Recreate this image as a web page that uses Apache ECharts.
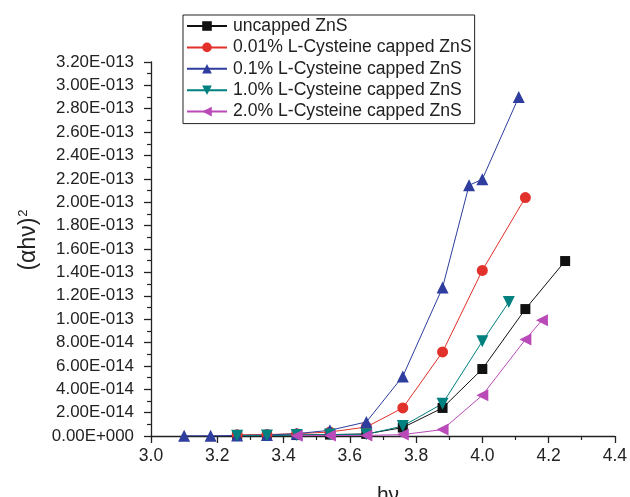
<!DOCTYPE html>
<html>
<head>
<meta charset="utf-8">
<script src="https://cdn.jsdelivr.net/npm/echarts@6/dist/echarts.min.js"></script>
<style>html,body{margin:0;padding:0;background:#fff;}#c{width:630px;height:497px;}</style>
</head>
<body>
<div id="c"></div>
<script>
// Data (y values in units of 1E-014)
var seriesNames = ['uncapped ZnS', '0.01% L-Cysteine capped ZnS', '0.1% L-Cysteine capped ZnS', '1.0% L-Cysteine capped ZnS', '2.0% L-Cysteine capped ZnS'];
var xUncapped = [3.26, 3.35, 3.44, 3.54, 3.65, 3.76, 3.88, 4.00, 4.13, 4.25];
var yUncapped = [0.05, 0.05, 0.08, 0.12, 0.18, 0.72, 2.40, 5.73, 10.86, 14.97];
var x001 = [3.26, 3.35, 3.44, 3.54, 3.65, 3.76, 3.88, 4.00, 4.13];
var y001 = [0.10, 0.12, 0.20, 0.34, 0.77, 2.40, 7.19, 14.17, 20.40];
var x01 = [3.10, 3.18, 3.26, 3.35, 3.44, 3.54, 3.65, 3.76, 3.88, 3.96, 4.00, 4.11];
var y01 = [0.02, 0.02, 0.05, 0.08, 0.20, 0.49, 1.20, 5.10, 12.70, 21.45, 21.96, 29.00];
var x10 = [3.26, 3.35, 3.44, 3.54, 3.65, 3.76, 3.88, 4.00, 4.08];
var y10 = [0.03, 0.04, 0.08, 0.12, 0.15, 0.85, 2.77, 8.10, 11.46];
var x20 = [3.44, 3.54, 3.65, 3.76, 3.88, 4.00, 4.13, 4.18];
var y20 = [0.03, 0.04, 0.05, 0.12, 0.55, 3.48, 8.25, 9.90];
var SCALE = 1e-14;

function pairs(xs, ys) {
  return xs.map(function (x, i) { return [x, ys[i] * SCALE]; });
}
function sciLabel(v) {
  if (Math.abs(v) < 1e-30) return '0.00E+000';
  var s = v.toExponential(2);
  var parts = s.split('e');
  var e = parseInt(parts[1], 10);
  var sign = e < 0 ? '-' : '+';
  var ea = String(Math.abs(e));
  while (ea.length < 3) ea = '0' + ea;
  return parts[0] + 'E' + sign + ea;
}

var colors = ['#111111', '#e2302a', '#2e3d9e', '#00807f', '#b94ab8'];
var symbols = ['rect', 'circle', 'triangle', 'triangle', 'triangle'];
var rotates = [0, 0, 0, 180, 90];
var sizes = [10, 11, 12, 12, 12];
var datas = [pairs(xUncapped, yUncapped), pairs(x001, y001), pairs(x01, y01), pairs(x10, y10), pairs(x20, y20)];

var series = seriesNames.map(function (n, i) {
  return {
    name: n,
    type: 'line',
    data: datas[i],
    symbol: symbols[i],
    symbolSize: sizes[i],
    symbolRotate: rotates[i],
    showAllSymbol: true,
    lineStyle: { color: colors[i], width: 1 },
    itemStyle: { color: colors[i] },
    emphasis: { disabled: true },
    animation: false
  };
});

var FONT = 'Liberation Sans';
var chart = echarts.init(document.getElementById('c'), null, { renderer: 'canvas' });
var axisColor = '#222';
chart.setOption({
  backgroundColor: '#fff',
  animation: false,
  grid: { left: 151, right: 13, top: 62, bottom: 61, containLabel: false },
  legend: {
    orient: 'vertical',
    left: 183,
    top: 15,
    padding: [2, 3, 3, 3],
    itemGap: 3.4,
    itemWidth: 40,
    itemHeight: 12,
    borderColor: '#222',
    borderWidth: 1,
    backgroundColor: '#fff',
    selectedMode: false,
    textStyle: { fontFamily: FONT, fontSize: 17.6, color: '#222', lineHeight: 18, padding: [0, 0, 0, 1] },
    data: seriesNames
  },
  xAxis: {
    type: 'value',
    min: 3.0,
    max: 4.4,
    interval: 0.2,
    axisLine: { show: true, lineStyle: { color: axisColor, width: 1.3 } },
    axisTick: { show: true, length: 7, lineStyle: { color: axisColor, width: 1.3 } },
    minorTick: { show: true, splitNumber: 2, length: 4, lineStyle: { color: axisColor, width: 1.2 } },
    splitLine: { show: false },
    axisLabel: { margin: 11, fontFamily: FONT, fontSize: 17.5, color: '#222', formatter: function (v) { return v.toFixed(1); } }
  },
  yAxis: {
    type: 'value',
    min: 0,
    max: 3.2e-13,
    interval: 2e-14,
    axisLine: { show: true, lineStyle: { color: axisColor, width: 1.3 } },
    axisTick: { show: true, length: 7, lineStyle: { color: axisColor, width: 1.3 } },
    minorTick: { show: true, splitNumber: 2, length: 4, lineStyle: { color: axisColor, width: 1.2 } },
    splitLine: { show: false },
    axisLabel: { margin: 17, fontFamily: FONT, fontSize: 16.9, color: '#222', formatter: sciLabel }
  },
  graphic: [
    {
      type: 'text',
      x: 29,
      y: 240,
      rotation: Math.PI / 2,
      style: {
        text: '{a|(αhν)}{b|2}',
        align: 'center',
        verticalAlign: 'middle',
        rich: {
          a: { fontFamily: FONT, fontSize: 23, fill: '#222' },
          b: { fontFamily: FONT, fontSize: 13, fill: '#222', verticalAlign: 'top', padding: [0, 0, 12, 1] }
        }
      }
    },
    {
      type: 'text',
      x: 388,
      y: 485,
      style: {
        text: 'hν',
        align: 'center',
        verticalAlign: 'top',
        fontFamily: FONT,
        fontSize: 21,
        fill: '#222'
      }
    }
  ],
  series: series
});
</script>
</body>
</html>
